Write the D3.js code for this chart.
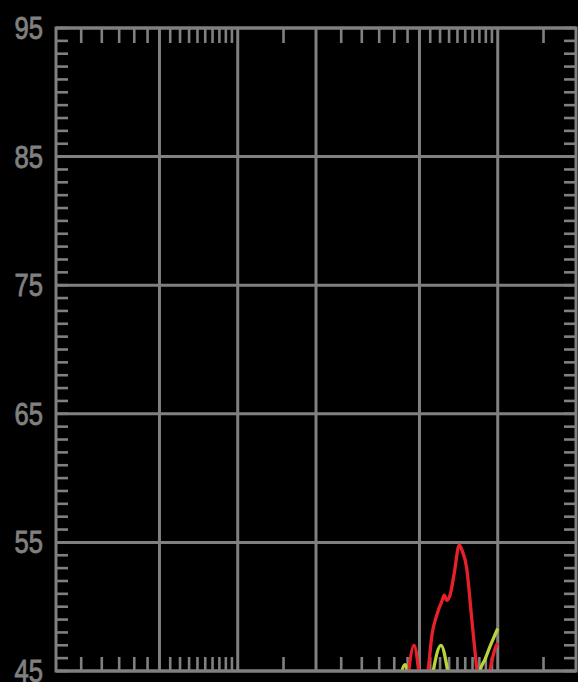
<!DOCTYPE html>
<html><head><meta charset="utf-8">
<script src="https://cdnjs.cloudflare.com/ajax/libs/d3/7.8.5/d3.min.js"></script>
<style>html,body{margin:0;padding:0;background:#000;}svg{display:block;}</style>
</head><body>
<svg id="chart" width="578" height="682"></svg>
<script>
// ---- data ----
const xDomain = [40, 4000];
const yDomain = [45, 95];
const yMajorTicks = [45, 55, 65, 75, 85, 95];
const yMinorTicks = d3.range(45, 96, 1);
const xGridTicks = [100, 200, 400, 1000, 2000];
const xMinorTicks = [50, 60, 70, 80, 90, 110, 120, 130, 140, 150, 160, 170, 180, 190,
  300, 500, 600, 700, 800, 900, 1100, 1200, 1300, 1400, 1500, 1600, 1700, 1800, 1900, 3000];

const redFreq = [888, 953, 1035, 1079, 1117, 1168, 1218, 1246, 1273, 1311, 1358, 1423, 1457, 1519, 1588, 1660, 1720, 1800, 1867, 1951, 2000];
const redLevel = [43.0, 47.0, 43.0, 45.0, 47.8, 49.4, 50.4, 50.9, 50.5, 50.9, 52.5, 54.8, 54.4, 53.0, 49.1, 45.2, 42.5, 42.5, 45.0, 46.7, 47.2];

const greenFreq = [835, 880, 925, 1100, 1130, 1210, 1284, 1320, 1650, 1710, 1787, 1867, 1951, 2000];
const greenLevel = [44.0, 45.5, 44.0, 43.5, 45.0, 47.0, 45.0, 43.5, 43.0, 45.0, 45.9, 46.9, 47.8, 48.3];

// ---- layout ----
const L = 56, R = 576, T = 28, B = 671;
const gridColor = "#808080";
const svg = d3.select("#chart");
const x = d3.scaleLog().domain(xDomain).range([L, R]);
const y = d3.scaleLinear().domain(yDomain).range([B, T]);

svg.append("defs").append("clipPath").attr("id", "clip")
  .append("rect").attr("x", L).attr("y", T).attr("width", R - L).attr("height", B - T);

const g = svg.append("g");

// minor y ticks left/right
g.selectAll(".ytl").data(yMinorTicks).join("line")
  .attr("x1", L).attr("x2", L + 12).attr("y1", d => y(d)).attr("y2", d => y(d))
  .attr("stroke", gridColor).attr("stroke-width", 2.6);
g.selectAll(".ytr").data(yMinorTicks).join("line")
  .attr("x1", R - 12).attr("x2", R).attr("y1", d => y(d)).attr("y2", d => y(d))
  .attr("stroke", gridColor).attr("stroke-width", 2.6);

// minor x ticks top/bottom
g.selectAll(".xtt").data(xMinorTicks).join("line")
  .attr("x1", d => x(d)).attr("x2", d => x(d)).attr("y1", T).attr("y2", T + 15)
  .attr("stroke", gridColor).attr("stroke-width", 2.6);
g.selectAll(".xtb").data(xMinorTicks).join("line")
  .attr("x1", d => x(d)).attr("x2", d => x(d)).attr("y1", B - 14).attr("y2", B)
  .attr("stroke", gridColor).attr("stroke-width", 2.6);

// grid
g.selectAll(".gx").data(xGridTicks).join("line")
  .attr("x1", d => x(d)).attr("x2", d => x(d)).attr("y1", T).attr("y2", B)
  .attr("stroke", gridColor).attr("stroke-width", 3);
g.selectAll(".gy").data(yMajorTicks).join("line")
  .attr("x1", L).attr("x2", R).attr("y1", d => y(d)).attr("y2", d => y(d))
  .attr("stroke", gridColor).attr("stroke-width", 3);

// series
const line = d3.line().x(d => x(d[0])).y(d => y(d[1])).curve(d3.curveMonotoneX);
const plot = svg.append("g").attr("clip-path", "url(#clip)");
plot.append("path").datum(greenFreq.map((f, i) => [f, greenLevel[i]]))
  .attr("d", line).attr("fill", "none").attr("stroke", "#b8d43a").attr("stroke-width", 3.3);
plot.append("path").datum(redFreq.map((f, i) => [f, redLevel[i]]))
  .attr("d", line).attr("fill", "none").attr("stroke", "#e8202a").attr("stroke-width", 3.3);

// frame
svg.append("rect").attr("x", L).attr("y", T).attr("width", R - L).attr("height", B - T)
  .attr("fill", "none").attr("stroke", gridColor).attr("stroke-width", 3);

// y labels
svg.selectAll(".yl").data(yMajorTicks).join("text")
  .attr("transform", d => `translate(43,${y(d) + 11}) scale(0.8,1)`)
  .attr("text-anchor", "end")
  .attr("font-family", "'Liberation Sans', Arial, sans-serif")
  .attr("font-size", 32)
  .attr("fill", gridColor)
  .attr("stroke", gridColor)
  .attr("stroke-width", 0.9)
  .text(d => d);
</script>
</body></html>
